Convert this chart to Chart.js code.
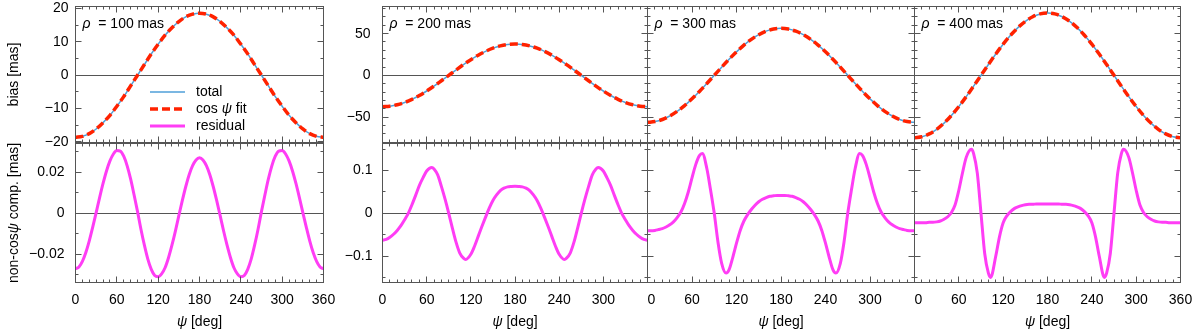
<!DOCTYPE html>
<html lang="en">
<head>
<meta charset="utf-8">
<title>bias vs psi</title>
<script src="https://cdn.jsdelivr.net/npm/chart.js@4.4.1/dist/chart.umd.min.js"></script>
<style>
  html, body { margin: 0; padding: 0; background: #fff; }
  #figura { position: relative; width: 1200px; height: 333px; }
  #figura canvas { position: absolute; left: 0; top: 0; }
</style>
</head>
<body>
<div id="figura">
  <canvas id="vies100" width="1200" height="333"></canvas>
  <canvas id="vies200" width="1200" height="333"></canvas>
  <canvas id="vies300" width="1200" height="333"></canvas>
  <canvas id="vies400" width="1200" height="333"></canvas>
  <canvas id="res100" width="1200" height="333"></canvas>
  <canvas id="res200" width="1200" height="333"></canvas>
  <canvas id="res300" width="1200" height="333"></canvas>
  <canvas id="res400" width="1200" height="333"></canvas>
</div>
<script>
// Valores (psi em graus)
var psi10 = [0,10,20,30,40,50,60,70,80,90,100,110,120,130,140,150,160,170,180,190,200,210,220,230,240,250,260,270,280,290,300,310,320,330,340,350,360];
var psi5 = [0,5,10,15,20,25,30,35,40,45,50,55,60,65,70,75,80,85,90,95,100,105,110,115,120,125,130,135,140,145,150,155,160,165,170,175,180,185,190,195,200,205,210,215,220,225,230,235,240,245,250,255,260,265,270,275,280,285,290,295,300,305,310,315,320,325,330,335,340,345,350,355,360];
var psiRes200 = [0,5,10,15,20,25,30,35,40,45,50,55,60,67,70,75,80,85,90,95,100,105,110,113,120,125,130,135,140,145,150,155,160,165,170,175,180,185,190,195,200,205,210,215,220,225,230,235,240,247,250,255,260,265,270,275,280,285,290,293,300,305,310,315,320,325,330,335,340,345,350,355,360];
var psiRes300 = [0,5,10,15,20,25,30,35,40,45,50,55,60,65,70,74,80,85,90,95,100,106,110,115,120,125,130,135,140,145,150,155,160,165,170,175,180,185,190,195,200,205,210,215,220,225,230,235,240,245,250,254,260,265,270,275,280,286,290,295,300,305,310,315,320,325,330,335,340,345,350,355,360];
var psiRes400 = [0,5,10,15,20,25,30,35,40,45,50,55,60,65,70,77,80,85,90,95,100,103,110,115,120,125,130,135,140,145,150,155,160,165,170,175,180,185,190,195,200,205,210,215,220,225,230,235,240,245,250,257,260,265,270,275,280,283,290,295,300,305,310,315,320,325,330,335,340,345,350,355,360];

// bias [mas] -- total e ajuste cos psi coincidem no desenho
var vies100 = [-18.6,-18.3,-17.5,-16.1,-14.2,-12.0,-9.3,-6.4,-3.2,0.0,3.2,6.4,9.3,12.0,14.2,16.1,17.5,18.3,18.6,18.3,17.5,16.1,14.2,12.0,9.3,6.4,3.2,0.0,-3.2,-6.4,-9.3,-12.0,-14.2,-16.1,-17.5,-18.3,-18.6];
var vies200 = [-37.6,-37.0,-35.3,-32.6,-28.8,-24.2,-18.8,-12.9,-6.5,0.0,6.5,12.9,18.8,24.2,28.8,32.6,35.3,37.0,37.6,37.0,35.3,32.6,28.8,24.2,18.8,12.9,6.5,0.0,-6.5,-12.9,-18.8,-24.2,-28.8,-32.6,-35.3,-37.0,-37.6];
var vies300 = [-56.4,-55.5,-53.0,-48.8,-43.2,-36.3,-28.2,-19.3,-9.8,0.0,9.8,19.3,28.2,36.3,43.2,48.8,53.0,55.5,56.4,55.5,53.0,48.8,43.2,36.3,28.2,19.3,9.8,0.0,-9.8,-19.3,-28.2,-36.3,-43.2,-48.8,-53.0,-55.5,-56.4];
var vies400 = [-74.8,-73.7,-70.3,-64.8,-57.3,-48.1,-37.4,-25.6,-13.0,0.0,13.0,25.6,37.4,48.1,57.3,64.8,70.3,73.7,74.8,73.7,70.3,64.8,57.3,48.1,37.4,25.6,13.0,0.0,-13.0,-25.6,-37.4,-48.1,-57.3,-64.8,-70.3,-73.7,-74.8];

// componente não-cos psi [mas]
var res100 = [-0.0271,-0.0262,-0.0235,-0.0192,-0.0135,-0.0068,0.0003,0.0076,0.0145,0.0206,0.0255,0.0289,0.0306,0.0303,0.0278,0.0231,0.0167,0.0090,0.0009,-0.0078,-0.0156,-0.0224,-0.0274,-0.0304,-0.0310,-0.0296,-0.0266,-0.0217,-0.0156,-0.0087,-0.0012,0.0061,0.0129,0.0188,0.0232,0.0260,0.0270,
  0.0260,0.0232,0.0188,0.0129,0.0061,-0.0012,-0.0087,-0.0156,-0.0217,-0.0266,-0.0296,-0.0310,-0.0304,-0.0274,-0.0224,-0.0156,-0.0078,0.0009,0.0090,0.0167,0.0231,0.0278,0.0303,0.0306,0.0289,0.0255,0.0206,0.0145,0.0076,0.0003,-0.0068,-0.0135,-0.0192,-0.0235,-0.0262,-0.0271];
var res200 = [-0.063,-0.061,-0.056,-0.049,-0.040,-0.029,-0.015,0.000,0.020,0.042,0.065,0.083,0.099,0.1075,0.104,0.090,0.063,0.033,0.000,-0.035,-0.068,-0.093,-0.105,-0.108,-0.096,-0.077,-0.054,-0.031,-0.009,0.012,0.030,0.043,0.053,0.059,0.062,0.063,0.0635,
  0.063,0.062,0.059,0.053,0.043,0.030,0.012,-0.009,-0.031,-0.054,-0.077,-0.096,-0.108,-0.105,-0.093,-0.068,-0.035,0.000,0.033,0.063,0.090,0.104,0.1075,0.099,0.083,0.065,0.042,0.020,0.000,-0.015,-0.029,-0.040,-0.049,-0.056,-0.061,-0.063];
var res300 = [-0.041,-0.041,-0.040,-0.038,-0.036,-0.032,-0.027,-0.020,-0.010,0.003,0.023,0.050,0.083,0.114,0.135,0.140,0.105,0.055,0.000,-0.067,-0.117,-0.140,-0.132,-0.103,-0.070,-0.040,-0.018,-0.003,0.009,0.019,0.027,0.033,0.037,0.040,0.041,0.042,0.042,
  0.042,0.041,0.040,0.037,0.033,0.027,0.019,0.009,-0.003,-0.018,-0.040,-0.070,-0.103,-0.132,-0.140,-0.117,-0.067,0.000,0.055,0.105,0.140,0.135,0.114,0.083,0.050,0.023,0.003,-0.010,-0.020,-0.027,-0.032,-0.036,-0.038,-0.040,-0.041,-0.041];
var res400 = [-0.022,-0.022,-0.022,-0.022,-0.021,-0.021,-0.020,-0.018,-0.014,-0.008,0.002,0.020,0.054,0.095,0.131,0.150,0.140,0.094,0.000,-0.094,-0.140,-0.150,-0.100,-0.055,-0.022,-0.006,0.004,0.011,0.015,0.018,0.020,0.021,0.021,0.022,0.022,0.022,0.022,
  0.022,0.022,0.022,0.021,0.021,0.020,0.018,0.015,0.011,0.004,-0.006,-0.022,-0.055,-0.100,-0.150,-0.140,-0.094,0.000,0.094,0.140,0.150,0.131,0.095,0.054,0.020,0.002,-0.008,-0.014,-0.018,-0.020,-0.021,-0.021,-0.022,-0.022,-0.022,-0.022];

// Rótulos dos eixos
var ticksX = [0,60,120,180,240,300,360];
var ticksXCurto = [0,60,120,180,240,300];
var ticksVies100 = [-20,-10,0,10,20];
var ticksVies = [-50,0,50];
var ticksRes100 = [-0.02,0,0.02];
var ticksRes = [-0.1,0,0.1];
var valoresRho = ['100','200','300','400'];

var corTotal = '#4f9fd8';
var corAjuste = '#ff2200';
var corResiduo = '#ff3df5';

var FONTE = '"Liberation Sans", Arial, Helvetica, sans-serif';
Chart.defaults.font.family = FONTE;
Chart.defaults.font.size = 14;
Chart.defaults.color = '#000';

// escreve texto com partes em itálico
function escreverRico(ctx, partes, x, y, alinhamento) {
    var larguras = [], total = 0, i;
    for (i = 0; i < partes.length; i++) {
        ctx.font = (partes[i][1] ? 'italic ' : '') + '14px ' + FONTE;
        larguras.push(ctx.measureText(partes[i][0]).width);
        total += larguras[i];
    }
    var cx = alinhamento === 'center' ? x - total / 2 : x;
    ctx.textAlign = 'left';
    ctx.textBaseline = 'middle';
    for (i = 0; i < partes.length; i++) {
        ctx.font = (partes[i][1] ? 'italic ' : '') + '14px ' + FONTE;
        ctx.fillText(partes[i][0], cx, y);
        cx += larguras[i];
    }
}

// Moldura e ticks para dentro nos quatro lados
var molduraPlugin = {
    id: 'moldura',
    afterDraw: function (chart, args, o) {
        var ctx = chart.ctx, a = chart.chartArea;
        var sx = chart.scales.x, sy = chart.scales.y;
        var k, p, len, razao;
        ctx.save();
        ctx.strokeStyle = '#555';
        ctx.lineWidth = 1;
        ctx.beginPath();
        razao = Math.round(o.xMaior / o.xMenor);
        for (k = Math.ceil(sx.min / o.xMenor - 1e-6); k * o.xMenor <= sx.max + 1e-9; k++) {
            p = Math.floor(sx.getPixelForValue(k * o.xMenor)) + 0.5;
            len = (k % razao === 0) ? 6 : 3;
            ctx.moveTo(p, a.bottom); ctx.lineTo(p, a.bottom - len);
            ctx.moveTo(p, a.top); ctx.lineTo(p, a.top + len);
        }
        razao = Math.round(o.yMaior / o.yMenor);
        for (k = Math.ceil(sy.min / o.yMenor - 1e-6); k * o.yMenor <= sy.max + 1e-9; k++) {
            p = Math.floor(sy.getPixelForValue(k * o.yMenor)) + 0.5;
            len = (k % razao === 0) ? 6 : 3;
            ctx.moveTo(a.left, p); ctx.lineTo(a.left + len, p);
            ctx.moveTo(a.right, p); ctx.lineTo(a.right - len, p);
        }
        ctx.stroke();
        ctx.strokeRect(a.left, a.top, a.right - a.left, a.bottom - a.top);
        ctx.restore();
    }
};

// Textos: rho, legenda e títulos dos eixos
var textosPlugin = {
    id: 'textos',
    afterDraw: function (chart, args, o) {
        var ctx = chart.ctx, a = chart.chartArea, i;
        ctx.save();
        ctx.fillStyle = '#000';
        if (o.rho) {
            escreverRico(ctx, [['\u03c1', true], ['  = ' + o.rho + ' mas', false]], a.left + 7, 24.5, 'left');
        }
        if (o.legenda) {
            var nomes = [[['total', false]], [['cos ', false], ['\u03c8', true], [' fit', false]], [['residual', false]]];
            var cores = [corTotal, corAjuste, corResiduo];
            var larg = [1.5, 3.5, 3];
            var tracos = [[], [8, 4], []];
            var ys = [92, 109, 126];
            for (i = 0; i < 3; i++) {
                ctx.strokeStyle = cores[i];
                ctx.lineWidth = larg[i];
                ctx.setLineDash(tracos[i]);
                ctx.beginPath();
                ctx.moveTo(150, ys[i]);
                ctx.lineTo(185, ys[i]);
                ctx.stroke();
                escreverRico(ctx, nomes[i], 196, ys[i], 'left');
            }
            ctx.setLineDash([]);
        }
        if (o.tituloX) {
            escreverRico(ctx, [['\u03c8', true], [' [deg]', false]], (a.left + a.right) / 2, 322, 'center');
        }
        if (o.tituloY) {
            ctx.translate(14, (a.top + a.bottom) / 2);
            ctx.rotate(-Math.PI / 2);
            escreverRico(ctx, o.tituloY, 0, 0, 'center');
        }
        ctx.restore();
    }
};

function rotulo(v) {
    return (v < 0 ? '\u2212' : '') + Math.abs(v);
}

function pontos(xs, ys) {
    return xs.map(function (x, i) { return { x: x, y: ys[i] }; });
}

function criarPainel(id, c) {
    var ctx = document.getElementById(id).getContext('2d');
    var alturaX = c.ticksX ? 333 - c.area[3] : 0;
    // o eixo y ocupa toda a faixa à esquerda do painel, o eixo x a faixa de baixo
    function ajustarEixo(scale) {
        if (scale.isHorizontal()) { scale.height = alturaX; } else { scale.width = c.area[0]; }
        scale.paddingLeft = 0; scale.paddingRight = 0;
        scale.paddingTop = 0; scale.paddingBottom = 0;
    }
    return new Chart(ctx, {
        type: 'line',
        data: { datasets: c.datasets },
        options: {
            responsive: false,
            animation: false,
            events: [],
            layout: { padding: { left: 0, right: 1200 - c.area[1], top: c.area[2], bottom: 333 - c.area[3] - alturaX } },
            elements: { point: { radius: 0 }, line: { cubicInterpolationMode: 'monotone' } },
            plugins: {
                legend: { display: false },
                tooltip: { enabled: false },
                moldura: { xMenor: 10, xMaior: 60, yMenor: c.yMenor, yMaior: c.yMaior },
                textos: { rho: c.rho, legenda: c.legenda, tituloX: c.tituloX, tituloY: c.tituloY }
            },
            scales: {
                x: {
                    type: 'linear', min: 0, max: 360,
                    afterFit: ajustarEixo,
                    afterBuildTicks: function (s) { s.ticks = (c.ticksX || []).map(function (v) { return { value: v }; }); },
                    grid: { display: false, drawTicks: false },
                    border: { display: false },
                    ticks: {
                        display: !!c.ticksX, padding: 9, autoSkip: false, maxRotation: 0,
                        callback: function (v) { return (v === 0 && c.desvioZero) ? c.desvioZero + '0' : rotulo(v); }
                    }
                },
                y: {
                    type: 'linear', min: c.yMin, max: c.yMax,
                    afterFit: ajustarEixo,
                    afterBuildTicks: function (s) { s.ticks = c.ticksY.map(function (v) { return { value: v }; }); },
                    grid: {
                        drawTicks: false, lineWidth: 1,
                        color: function (g) { return (g.tick && g.tick.value === 0) ? '#555' : 'rgba(0,0,0,0)'; }
                    },
                    border: { display: false },
                    ticks: { display: c.rotulosY, padding: c.padY || 8, autoSkip: false, callback: rotulo }
                }
            }
        },
        plugins: [molduraPlugin, textosPlugin]
    });
}

var colunas = [[75.5, 323.5], [382.5, 647.5], [647.5, 914.5], [914.5, 1180.5]];
var linhaCima = [6.5, 142.5];
var linhaBaixo = [143.5, 282.5];
var viesLista = [vies100, vies200, vies300, vies400];
var resLista = [res100, res200, res300, res400];
var psiResLista = [psi5, psiRes200, psiRes300, psiRes400];
var tituloVies = [['bias [mas]', false]];
var tituloRes = [['non-cos', false], ['\u03c8', true], [' comp. [mas]', false]];

for (var i = 0; i < 4; i++) {
    var col = colunas[i];
    criarPainel('vies' + valoresRho[i], {
        area: [col[0], col[1], linhaCima[0], linhaCima[1]],
        datasets: [
            { label: 'cos \u03c8 fit', data: pontos(psi10, viesLista[i]), borderColor: corAjuste, borderWidth: 3.5, borderDash: [8, 4], order: 0 },
            { label: 'total', data: pontos(psi10, viesLista[i]), borderColor: corTotal, borderWidth: 1.5, order: 1 }
        ],
        yMin: i === 0 ? -20.15 : -80.6,
        yMax: i === 0 ? 20.6 : 82.6,
        yMenor: i === 0 ? 5 : 10,
        yMaior: i === 0 ? 10 : 50,
        ticksY: i === 0 ? ticksVies100 : ticksVies,
        rotulosY: i < 2,
        padY: i === 0 ? 7 : 12,
        ticksX: null,
        rho: valoresRho[i],
        legenda: i === 0,
        tituloY: i === 0 ? tituloVies : null
    });
    criarPainel('res' + valoresRho[i], {
        area: [col[0], col[1], linhaBaixo[0], linhaBaixo[1]],
        datasets: [
            { label: 'residual', data: pontos(psiResLista[i], resLista[i]), borderColor: corResiduo, borderWidth: 3 }
        ],
        yMin: i === 0 ? -0.0338 : -0.162,
        yMax: i === 0 ? 0.034 : 0.1635,
        yMenor: i === 0 ? 0.01 : 0.05,
        yMaior: i === 0 ? 0.02 : 0.1,
        ticksY: i === 0 ? ticksRes100 : ticksRes,
        rotulosY: i < 2,
        padY: i === 0 ? 11 : 10,
        ticksX: (i === 0 || i === 3) ? ticksX : ticksXCurto,
        desvioZero: i >= 2 ? '  ' : '',
        tituloX: true,
        tituloY: i === 0 ? tituloRes : null
    });
}
</script>
</body>
</html>
